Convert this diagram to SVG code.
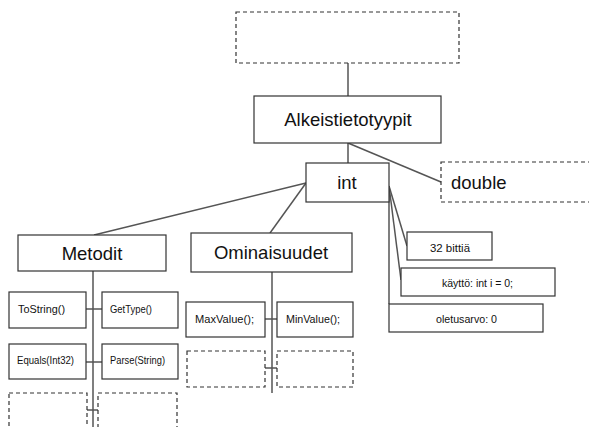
<svg xmlns="http://www.w3.org/2000/svg" width="589" height="427" viewBox="0 0 589 427">
<style>
.b{fill:#fff;stroke:#333;stroke-width:1.2}
.d{fill:#fff;stroke:#333;stroke-width:1.2;stroke-dasharray:4 3}
.c{fill:none;stroke:#555;stroke-width:1.5}
.t{font-family:"Liberation Sans",Arial,sans-serif;fill:#111}
.L{font-size:18.5px}
.s{font-size:10.5px}
.m{text-anchor:middle}
</style>
<rect width="589" height="427" fill="#fff"/>
<g id="connectors">
<line class="c" x1="348" y1="63" x2="348" y2="96"/>
<line class="c" x1="348" y1="143" x2="348" y2="163"/>
<line class="c" x1="348" y1="143" x2="441" y2="182"/>
<line class="c" x1="306" y1="183" x2="94" y2="235"/>
<line class="c" x1="306" y1="183" x2="270" y2="233"/>
<line class="c" x1="389" y1="186" x2="407" y2="246"/>
<line class="c" x1="389" y1="186" x2="401" y2="280"/>
<line class="c" x1="389" y1="186" x2="389" y2="304"/>
<line class="c" x1="93" y1="271" x2="93" y2="427"/>
<line class="c" x1="86" y1="309" x2="102" y2="309"/>
<line class="c" x1="86" y1="362" x2="102" y2="362"/>
<line class="c" x1="87" y1="410" x2="98" y2="410"/>
<line class="c" x1="272" y1="272" x2="272" y2="393"/>
<line class="c" x1="265" y1="319" x2="277" y2="319"/>
<line class="c" x1="265" y1="368" x2="277" y2="368"/>
</g>
<g id="top"><rect class="d" x="236" y="12" width="223" height="51"/></g>
<g id="alkeis"><rect class="b" x="254" y="96" width="187" height="47"/><text class="t L m" x="348" y="126">Alkeistietotyypit</text></g>
<g id="int"><rect class="b" x="306" y="163" width="83" height="39"/><text class="t L m" x="347" y="189">int</text></g>
<g id="double"><rect class="d" x="441" y="162" width="150" height="40"/><text class="t L" x="451" y="189">double</text></g>
<g id="metodit"><rect class="b" x="18" y="235" width="148" height="36"/><text class="t L m" x="92" y="260">Metodit</text></g>
<g id="ominaisuudet"><rect class="b" x="191" y="233" width="161" height="39"/><text class="t L m" x="271" y="259">Ominaisuudet</text></g>
<g id="tostring"><rect class="b" x="9" y="292" width="77" height="36"/><text class="t s" x="18" y="313" textLength="47" lengthAdjust="spacingAndGlyphs">ToString()</text></g>
<g id="gettype"><rect class="b" x="102" y="292" width="76" height="36"/><text class="t s" x="110" y="313" textLength="42" lengthAdjust="spacingAndGlyphs">GetType()</text></g>
<g id="equals"><rect class="b" x="9" y="344" width="77" height="35"/><text class="t s" x="17" y="364" textLength="57" lengthAdjust="spacingAndGlyphs">Equals(Int32)</text></g>
<g id="parse"><rect class="b" x="102" y="344" width="76" height="35"/><text class="t s" x="110" y="364" textLength="55" lengthAdjust="spacingAndGlyphs">Parse(String)</text></g>
<g id="mdash1"><rect class="d" x="9" y="393" width="78" height="40"/></g>
<g id="mdash2"><rect class="d" x="98" y="393" width="79" height="40"/></g>
<g id="maxvalue"><rect class="b" x="186" y="302" width="79" height="35"/><text class="t s" x="195" y="323" textLength="59" lengthAdjust="spacingAndGlyphs">MaxValue();</text></g>
<g id="minvalue"><rect class="b" x="277" y="302" width="76" height="35"/><text class="t s" x="286" y="323" textLength="54" lengthAdjust="spacingAndGlyphs">MinValue();</text></g>
<g id="odash1"><rect class="d" x="187" y="351" width="78" height="36"/></g>
<g id="odash2"><rect class="d" x="277" y="351" width="76" height="36"/></g>
<g id="bitti"><rect class="b" x="407" y="232" width="85" height="28"/><text class="t s" x="430" y="252" textLength="40" lengthAdjust="spacingAndGlyphs">32 bittiä</text></g>
<g id="kaytto"><rect class="b" x="401" y="268" width="154" height="28"/><text class="t s" x="442" y="287" textLength="71" lengthAdjust="spacingAndGlyphs">käyttö: int i = 0;</text></g>
<g id="oletus"><rect class="b" x="389" y="304" width="154" height="28"/><text class="t s" x="436" y="323" textLength="61" lengthAdjust="spacingAndGlyphs">oletusarvo: 0</text></g>
</svg>
